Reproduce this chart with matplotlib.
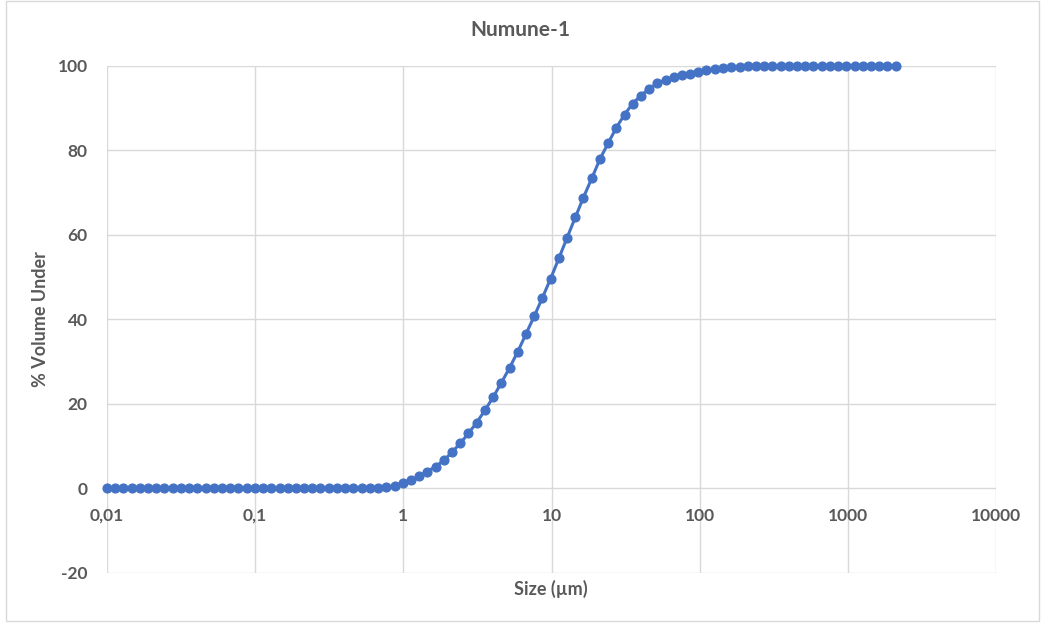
import matplotlib.pyplot as plt
from matplotlib.patches import Rectangle
from matplotlib.ticker import NullLocator

# Particle size classes (um) and cumulative volume undersize (%)
size_um = [0.0100, 0.0114, 0.0129, 0.0147, 0.0167, 0.0189, 0.0215, 0.0244, 0.0278, 0.0315,
           0.0358, 0.0407, 0.0463, 0.0526, 0.0597, 0.0679, 0.0771, 0.0876, 0.0995, 0.113,
           0.128, 0.146, 0.166, 0.188, 0.214, 0.243, 0.276, 0.314, 0.357, 0.405,
           0.460, 0.523, 0.594, 0.675, 0.767, 0.872, 0.991, 1.13, 1.28, 1.45,
           1.65, 1.88, 2.13, 2.42, 2.75, 3.12, 3.55, 4.03, 4.58, 5.21,
           5.92, 6.72, 7.64, 8.68, 9.86, 11.2, 12.7, 14.5, 16.4, 18.7,
           21.2, 24.1, 27.4, 31.1, 35.3, 40.1, 45.6, 51.8, 58.9, 66.9,
           76.0, 86.4, 98.1, 111, 127, 144, 163, 186, 211, 240,
           272, 310, 352, 400, 454, 516, 586, 666, 756, 859,
           976, 1110, 1260, 1430, 1630, 1850, 2100]
volume_under = [0.0] * 34 + [
    0.2, 0.6, 1.15, 1.85, 2.8, 3.9, 5.1, 6.6, 8.5, 10.6,
    12.95, 15.5, 18.4, 21.5, 24.9, 28.5, 32.3, 36.5, 40.7, 45.1,
    49.6, 54.4, 59.2, 64.2, 68.8, 73.4, 77.9, 81.7, 85.4, 88.5,
    91.1, 93.0, 94.6, 95.9, 96.7, 97.3, 97.8, 98.2, 98.6, 99.0,
    99.3, 99.5, 99.7, 99.85, 99.95] + [100.0] * 18

x_ticks = [0.01, 0.1, 1, 10, 100, 1000, 10000]
x_tick_labels = ['0,01', '0,1', '1', '10', '100', '1000', '10000']
y_ticks = [-20, 0, 20, 40, 60, 80, 100]

text_color = '#595959'
grid_color = '#d9d9d9'
blue = '#4472C4'

plt.rcParams['font.family'] = ['Lato', 'DejaVu Sans']
plt.rcParams['font.weight'] = 'bold'
plt.rcParams['axes.unicode_minus'] = False

W, H = 1041, 626
fig = plt.figure(figsize=(W / 100, H / 100), dpi=100)

# Outer chart frame
fig.patches.append(Rectangle((6 / W, 1 - 621 / H), (1039 - 6) / W, (621 - 1) / H,
                             transform=fig.transFigure, fill=False,
                             edgecolor=grid_color, linewidth=1))

ax = fig.add_axes([107 / W, 1 - 572.5 / H, (996 - 107) / W, (572.5 - 66) / H])
ax.set_xscale('log')
ax.set_xlim(0.01, 10000)
ax.set_ylim(-20, 100)

ax.set_xticks(x_ticks)
ax.set_xticklabels(x_tick_labels)
ax.xaxis.set_minor_locator(NullLocator())
ax.set_yticks(y_ticks)

ax.grid(True, color=grid_color, linewidth=1)
ax.set_axisbelow(True)
for s in ax.spines.values():
    s.set_visible(False)
# horizontal axis crosses at zero, labels sit under that line
ax.spines['bottom'].set_position(('data', 0))

ax.tick_params(axis='both', length=0, labelsize=12.5, labelcolor=text_color, pad=14)

ax.plot(size_um, volume_under, '-o', color=blue, linewidth=2.2, markersize=6.3,
        clip_on=False, zorder=3)

fig.text(520 / W, 1 - 30 / H, 'Numune-1', ha='center', va='center',
         fontsize=15, color=text_color)
fig.text(551 / W, 1 - 589 / H, 'Size (µm)', ha='center', va='center',
         fontsize=13, color=text_color)
fig.text(40 / W, 1 - 319 / H, '% Volume Under', ha='center', va='center',
         rotation=90, fontsize=13, color=text_color)

fig.savefig('out.png', dpi=100)
